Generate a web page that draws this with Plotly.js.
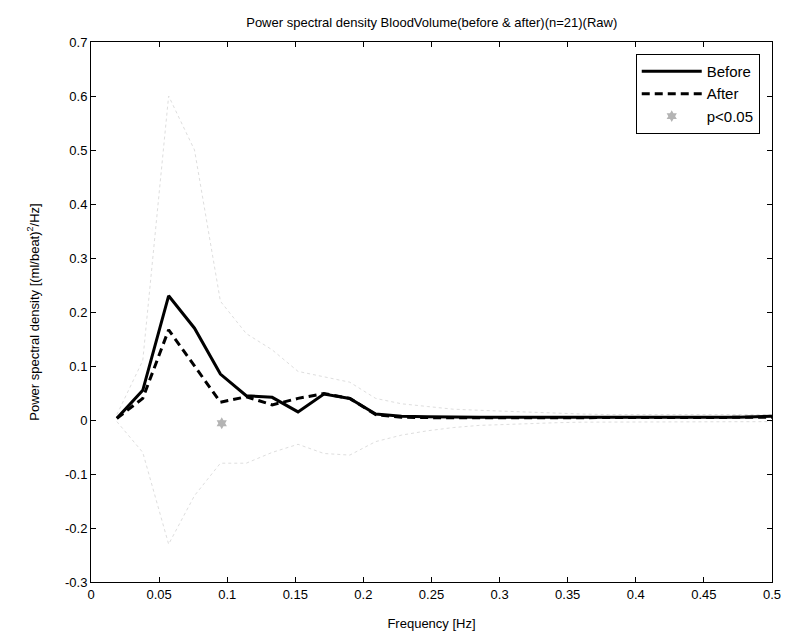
<!DOCTYPE html>
<html>
<head>
<meta charset="utf-8">
<script src="https://cdn.plot.ly/plotly-3.0.1.min.js"></script>
<style>html,body{margin:0;padding:0;background:#fff;}#chart{width:785px;height:641px;}</style>
</head>
<body>
<div id="chart"></div>
<script>
// Frequency grid [Hz]
var freq = [0.019,0.038,0.057,0.076,0.095,0.114,0.133,0.152,0.171,0.19,0.209,0.228,0.247,0.266,0.285,0.304,0.323,0.342,0.361,0.38,0.399,0.418,0.437,0.456,0.475,0.5];
// Mean PSD before
var before = [0.003,0.055,0.23,0.17,0.085,0.045,0.042,0.015,0.048,0.04,0.011,0.007,0.006,0.005,0.005,0.005,0.005,0.005,0.005,0.005,0.005,0.005,0.005,0.005,0.005,0.007];
// Mean PSD after
var after = [0.003,0.04,0.167,0.10,0.033,0.043,0.028,0.04,0.049,0.04,0.01,0.005,0.004,0.004,0.004,0.004,0.004,0.004,0.004,0.004,0.004,0.004,0.004,0.004,0.004,0.005];
// Faint dispersion bands
var upperBand = [0.01,0.11,0.60,0.50,0.22,0.16,0.13,0.09,0.08,0.07,0.04,0.03,0.025,0.02,0.018,0.016,0.014,0.012,0.011,0.01,0.01,0.01,0.01,0.01,0.01,0.01];
var lowerBand = [-0.003,-0.06,-0.23,-0.14,-0.08,-0.08,-0.06,-0.045,-0.062,-0.065,-0.04,-0.028,-0.02,-0.014,-0.01,-0.008,-0.006,-0.005,-0.004,-0.004,-0.003,-0.003,-0.003,-0.003,-0.003,-0.003];
// Significance marker
var sigFreq = [0.096];
var sigVal = [-0.006];
// Ticks
var xTickVals = [0,0.05,0.1,0.15,0.2,0.25,0.3,0.35,0.4,0.45,0.5];
var xTickText = ["0","0.05","0.1","0.15","0.2","0.25","0.3","0.35","0.4","0.45","0.5"];
var yTickVals = [-0.3,-0.2,-0.1,0,0.1,0.2,0.3,0.4,0.5,0.6,0.7];
var yTickText = ["-0.3","-0.2","-0.1","0","0.1","0.2","0.3","0.4","0.5","0.6","0.7"];

var font = "Arial, 'Liberation Sans', sans-serif";

var traces = [
  {x: freq, y: upperBand, mode: 'lines', line: {color: '#dedede', width: 1, dash: 'dot'}, showlegend: false, hoverinfo: 'skip'},
  {x: freq, y: lowerBand, mode: 'lines', line: {color: '#dedede', width: 1, dash: 'dot'}, showlegend: false, hoverinfo: 'skip'},
  {x: freq, y: before, mode: 'lines', name: 'Before', line: {color: '#000', width: 3}},
  {x: freq, y: after, mode: 'lines', name: 'After', line: {color: '#000', width: 3, dash: '8px,5px'}},
  {x: sigFreq, y: sigVal, mode: 'markers', name: 'p<0.05', marker: {symbol: 'hexagram', size: 9, color: '#b4b4b4'}}
];

var layout = {
  width: 785, height: 641,
  margin: {l: 91, r: 13, t: 42, b: 59},
  paper_bgcolor: '#fff', plot_bgcolor: '#fff',
  font: {family: font, color: '#000', size: 13},
  title: {text: 'Power spectral density BloodVolume(before & after)(n=21)(Raw)', x: 0.55, xanchor: 'center', y: 0.965, yanchor: 'middle', font: {size: 13, family: font, color: '#000'}},
  xaxis: {
    range: [0, 0.5], tickvals: xTickVals, ticktext: xTickText,
    ticks: 'inside', ticklen: 5, tickcolor: '#000', showline: true, linecolor: '#000', linewidth: 1, mirror: 'ticks',
    showgrid: false, zeroline: false, tickfont: {size: 13, family: font},
    title: {text: 'Frequency [Hz]', font: {size: 13, family: font}, standoff: 18}
  },
  yaxis: {
    range: [-0.3, 0.7], tickvals: yTickVals, ticktext: yTickText,
    ticks: 'inside', ticklen: 5, tickcolor: '#000', showline: true, linecolor: '#000', linewidth: 1, mirror: 'ticks',
    showgrid: false, zeroline: false, tickfont: {size: 13, family: font},
    title: {text: 'Power spectral density [(ml/beat)<sup>2</sup>/Hz]', font: {size: 13, family: font}, standoff: 22}
  },
  legend: {x: 0.982, xanchor: 'right', y: 0.978, yanchor: 'top', bordercolor: '#000', borderwidth: 1, bgcolor: '#fff', font: {size: 15, family: font, color: '#000'}, itemwidth: 60},
  showlegend: true
};

Plotly.newPlot('chart', traces, layout, {displayModeBar: false, staticPlot: true});
</script>
</body>
</html>
